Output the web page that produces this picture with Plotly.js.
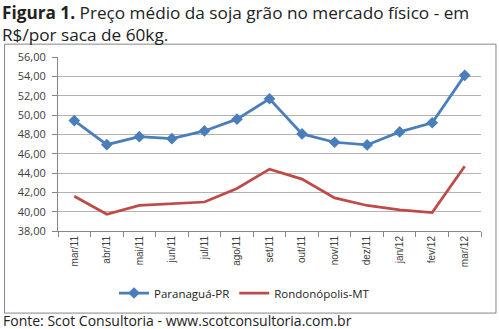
<!DOCTYPE html>
<html>
<head>
<meta charset="utf-8">
<script src="https://cdn.plot.ly/plotly-3.0.1.min.js"></script>
<style>
html,body{margin:0;padding:0;background:#fff;}
#chart{width:499px;height:329px;}
</style>
</head>
<body>
<div id="chart"></div>
<script>
var months = ["mar/11","abr/11","mai/11","jun/11","jul/11","ago/11","set/11","out/11","nov/11","dez/11","jan/12","fev/12","mar/12"];
var paranagua = [49.42,46.93,47.76,47.55,48.35,49.57,51.68,48.04,47.18,46.90,48.25,49.20,54.10];
var rondonopolis = [41.60,39.73,40.64,40.85,41.00,42.40,44.40,43.37,41.43,40.64,40.18,39.90,44.69];
var titleText = "<b>Figura 1.</b> Preço médio da soja grão no mercado físico - em<br>R$/por saca de 60kg.";
var sourceText = "Fonte: Scot Consultoria - www.scotconsultoria.com.br";

var W = 499, H = 329;
var L = 58, R = 481.5, T = 57.3, B = 230.7;
function px(x){ return (x - L) / (R - L); }
function py(y){ return (B - y) / (B - T); }

var traces = [
  {x: months, y: paranagua, name: "Paranaguá-PR", type: "scatter", mode: "lines+markers",
   line: {color: "#4a7ebb", width: 2.75}, marker: {symbol: "diamond", size: 9, color: "#4a7ebb"}},
  {x: months, y: rondonopolis, name: "Rondonópolis-MT", type: "scatter", mode: "lines",
   line: {color: "#be4b48", width: 2.75}}
];

var titleFont = {family: "Open Sans, Noto Sans, sans-serif", size: 17.2, color: "#222"};

var layout = {
  width: W, height: H,
  margin: {l: L, r: W - R, t: T, b: H - B, pad: 0},
  paper_bgcolor: "#ffffff", plot_bgcolor: "#ffffff",
  showlegend: true,
  separators: ",.",
  font: {family: "Open Sans, Noto Sans, sans-serif", color: "#404040"},
  xaxis: {
    type: "category", tickangle: -90, ticks: "outside", ticklen: 5, tickcolor: "#868686",
    tickson: "boundaries", showline: true, linecolor: "#868686", linewidth: 1,
    showgrid: false, zeroline: false, fixedrange: true,
    tickfont: {family: "Liberation Sans Narrow, Liberation Sans, sans-serif", size: 10, color: "#404040"},
    range: [-0.5, 12.5]
  },
  yaxis: {
    range: [38, 56], dtick: 2, tick0: 38, tickformat: ".2f",
    ticks: "outside", ticklen: 5, tickcolor: "#868686",
    showline: true, linecolor: "#868686", linewidth: 1,
    showgrid: true, gridcolor: "#b3b3b3", gridwidth: 1, zeroline: false,
    tickfont: {family: "Open Sans, sans-serif", size: 11, color: "#404040"},
    ticklabelstandoff: 4
  },
  legend: {
    orientation: "h", xref: "container", yref: "container",
    x: 0.49, xanchor: "center", y: 1 - 293/H, yanchor: "middle",
    font: {family: "Open Sans, sans-serif", size: 11.5, color: "#222"},
    itemwidth: 30, bgcolor: "rgba(0,0,0,0)"
  },
  annotations: [
    {text: titleText, xref: "paper", yref: "paper", x: px(1), y: py(0), xanchor: "left", yanchor: "top",
     align: "left", borderpad: 0, showarrow: false, font: titleFont},
    {text: sourceText, xref: "paper", yref: "paper", x: px(1), y: py(320), xanchor: "left", yanchor: "middle",
     showarrow: false, font: {family: "Open Sans, sans-serif", size: 14, color: "#222"}}
  ],
  shapes: [
    {type: "rect", xref: "paper", yref: "paper", x0: px(4.5), x1: px(496.5), y0: py(312.5), y1: py(44.5),
     line: {color: "#868686", width: 1}, fillcolor: "rgba(0,0,0,0)", layer: "below"}
  ]
};

Plotly.newPlot("chart", traces, layout, {displayModeBar: false, staticPlot: true});
</script>
</body>
</html>
